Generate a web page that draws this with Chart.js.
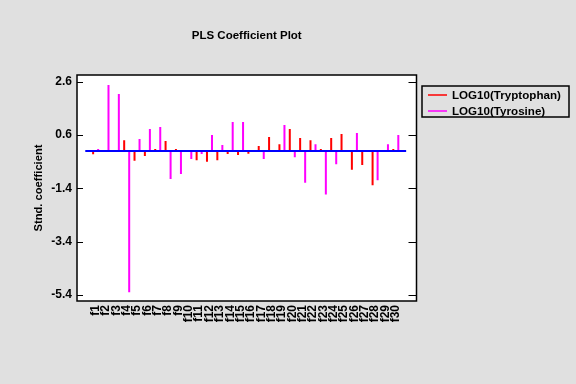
<!DOCTYPE html>
<html>
<head>
<meta charset="utf-8">
<script src="https://cdn.jsdelivr.net/npm/chart.js@4.4.0/dist/chart.umd.min.js"></script>
<style>
html, body { margin: 0; padding: 0; background: #e0e0e0; }
#wrap { width: 576px; height: 384px; position: relative; }
</style>
</head>
<body>
<div id="wrap"><canvas id="c" width="576" height="384"></canvas></div>
<script>
// ---- data ----
const categories = ['f1','f2','f3','f4','f5','f6','f7','f8','f9','f10',
  'f11','f12','f13','f14','f15','f16','f17','f18','f19','f20',
  'f21','f22','f23','f24','f25','f26','f27','f28','f29','f30'];
const tryptophan = [-0.12, 0.02, 0.02, 0.41, -0.36, -0.18, 0.08, 0.38, 0.08, 0.02,
  -0.34, -0.40, -0.34, -0.11, -0.15, -0.10, 0.19, 0.53, 0.26, 0.83,
  0.49, 0.41, 0.08, 0.49, 0.64, -0.70, -0.52, -1.28, 0.04, 0.08];
const tyrosine = [0.08, 2.48, 2.14, -5.30, 0.45, 0.83, 0.90, -1.05, -0.86, -0.30,
  -0.11, 0.60, 0.23, 1.09, 1.09, 0.03, -0.30, 0.01, 0.98, -0.23,
  -1.19, 0.26, -1.63, -0.49, 0.01, 0.68, -0.01, -1.09, 0.26, 0.60];
const seriesNames = ['LOG10(Tryptophan)', 'LOG10(Tyrosine)'];
const seriesColors = ['#ff0000', '#ff00ff'];
const yTickValues = [2.6, 0.6, -1.4, -3.4, -5.4];
const yTickLabels = ['2.6', '0.6', '-1.4', '-3.4', '-5.4'];
const baselineX = [0, 31];
const titleText = 'PLS Coefficient Plot';
const yTitleText = 'Stnd. coefficient';

Chart.defaults.font.family = "'Liberation Sans', Arial, sans-serif";
Chart.defaults.color = '#000';

const FONT_B = (s) => ({ family: "'Liberation Sans', Arial, sans-serif", size: s, weight: 'bold' });

const decorPlugin = {
  id: 'decor',
  beforeDraw(chart) {
    const { ctx, chartArea: a } = chart;
    ctx.save();
    ctx.fillStyle = '#e0e0e0';
    ctx.fillRect(0, 0, chart.width, chart.height);
    ctx.fillStyle = '#ffffff';
    ctx.fillRect(a.left, a.top, a.right - a.left, a.bottom - a.top);
    ctx.restore();
  },
  afterDraw(chart) {
    const { ctx, chartArea: a } = chart;
    const ys = chart.scales.y;
    ctx.save();
    // frame
    ctx.strokeStyle = '#000';
    ctx.lineWidth = 1.5;
    ctx.strokeRect(a.left, a.top, a.right - a.left, a.bottom - a.top);
    // inward y ticks on both sides
    ctx.lineWidth = 1;
    ys.ticks.forEach(t => {
      const py = Math.round(ys.getPixelForValue(t.value)) + 0.5;
      ctx.beginPath();
      ctx.moveTo(a.left, py); ctx.lineTo(a.left + 6, py);
      ctx.moveTo(a.right - 8, py); ctx.lineTo(a.right, py);
      ctx.stroke();
    });
    // legend
    const lx = 422, ly = 86, lw = 147, lh = 31;
    ctx.strokeStyle = '#000';
    ctx.lineWidth = 1.5;
    ctx.strokeRect(lx, ly, lw, lh);
    ctx.font = "bold 11.6px 'Liberation Sans', Arial, sans-serif";
    ctx.textBaseline = 'middle';
    ctx.textAlign = 'left';
    for (let i = 0; i < seriesNames.length; i++) {
      const yy = 95 + i * 16;
      ctx.strokeStyle = seriesColors[i];
      ctx.lineWidth = 1.5;
      ctx.beginPath();
      ctx.moveTo(428, yy); ctx.lineTo(447, yy);
      ctx.stroke();
      ctx.fillStyle = '#000';
      ctx.fillText(seriesNames[i], 452, yy + 0.5);
    }
    ctx.restore();
  }
};

new Chart(document.getElementById('c'), {
  type: 'bar',
  data: {
    datasets: [
      {
        type: 'line',
        label: 'baseline',
        data: baselineX.map(x => ({ x: x, y: 0 })),
        borderColor: '#0000ff',
        borderWidth: 2,
        pointRadius: 0,
        fill: false,
        order: 0
      },
      {
        label: seriesNames[0],
        data: categories.map((c, i) => ({ x: i + 1, y: tryptophan[i] })),
        backgroundColor: seriesColors[0],
        borderWidth: 0,
        categoryPercentage: 0.97,
        barPercentage: 0.4,
        order: 1
      },
      {
        label: seriesNames[1],
        data: categories.map((c, i) => ({ x: i + 1, y: tyrosine[i] })),
        backgroundColor: seriesColors[1],
        borderWidth: 0,
        categoryPercentage: 0.97,
        barPercentage: 0.4,
        order: 2
      }
    ]
  },
  options: {
    responsive: false,
    animation: false,
    devicePixelRatio: 1,
    layout: { padding: { left: 0, right: 159.5, top: 29, bottom: 0 } },
    plugins: {
      legend: { display: false },
      tooltip: { enabled: false },
      title: {
        display: true,
        text: titleText,
        fullSize: false,
        font: FONT_B(11.5),
        color: '#000',
        padding: { top: 0, bottom: 32.2 }
      }
    },
    scales: {
      x: {
        type: 'linear',
        min: -0.8,
        max: 32,
        offset: false,
        grid: { display: false, drawTicks: false },
        border: { display: false },
        afterBuildTicks(scale) {
          scale.ticks = categories.map((c, i) => ({ value: i + 1 }));
        },
        afterFit(scale) { scale.height = 83; },
        ticks: {
          autoSkip: false,
          maxRotation: 90,
          minRotation: 90,
          padding: 4,
          font: FONT_B(12),
          color: '#000',
          callback: (v) => categories[Math.round(v) - 1] || ''
        }
      },
      y: {
        type: 'linear',
        min: -5.625,
        max: 2.855,
        grid: { display: false, drawTicks: false },
        border: { display: false },
        afterBuildTicks(scale) {
          scale.ticks = yTickValues.map(v => ({ value: v }));
        },
        afterFit(scale) { scale.width = 77; },
        ticks: {
          padding: 5,
          font: FONT_B(12),
          color: '#000',
          callback: (v) => {
            const k = yTickValues.findIndex(t => Math.abs(t - v) < 1e-9);
            return k >= 0 ? yTickLabels[k] : '';
          }
        },
        title: {
          display: true,
          text: yTitleText,
          font: FONT_B(11.2),
          color: '#000',
          padding: { top: 31.8, bottom: 0 }
        }
      }
    }
  },
  plugins: [decorPlugin]
});
</script>
</body>
</html>
